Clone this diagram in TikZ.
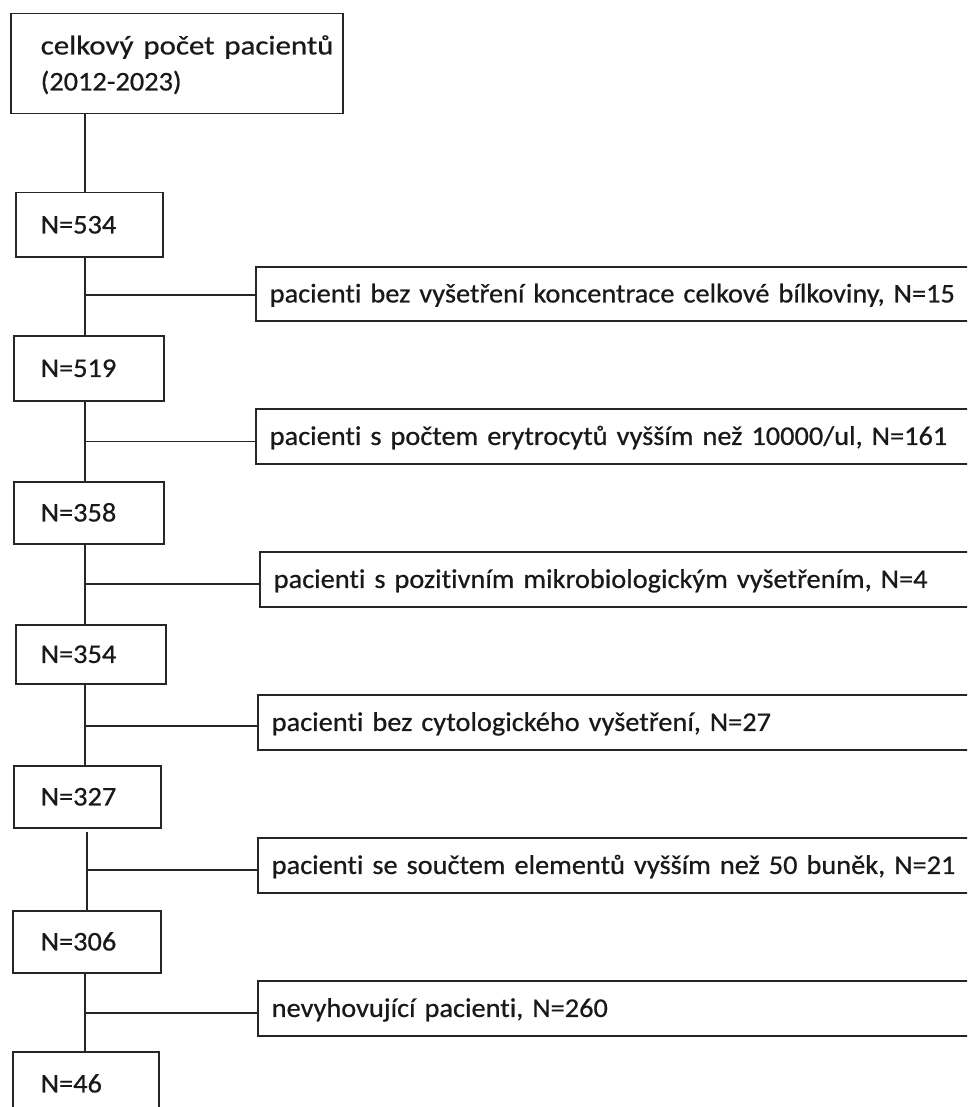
\documentclass[tikz,border=0pt]{standalone}
\usepackage{graphicx}
\usepackage{fontspec}
\setmainfont{Carlito}[Ligatures=NoCommon, FakeStretch=1.05, FakeBold=0.6]
\begin{document}
\begin{tikzpicture}[x=1pt,y=-1pt,
  box/.style={draw=black!85, line width=1.5pt, anchor=north west, inner xsep=0pt, inner ysep=0pt,
    align=left, font=\fontsize{27}{36}\selectfont, text=black!90, text height=17.4pt, text depth=0pt},
  conn/.style={draw=black!85, line width=1.5pt}
]
\useasboundingbox (0,0) rectangle (967,1107);
\fill[white] (0,0) rectangle (967,1107);
\clip (0,0) rectangle (967,1107);

\coordinate (spine) at (85,0);
\coordinate (spineb) at (87,0);

% main column
\node[box, minimum width=332pt, minimum height=100pt, text width=272pt, text depth=36pt] (top) at (10,13)
  {\scalebox{1.09}[1]{celkový počet pacientů}\\(2012-2023)};
\node[box, minimum width=147pt, minimum height=64pt, text width=97pt] (n534) at (15,192) {N=534};
\node[box, minimum width=150pt, minimum height=65pt, text width=96pt] (n519) at (13,335) {N=519};
\node[box, minimum width=150pt, minimum height=62pt, text width=96pt] (n358) at (13,481) {N=358};
\node[box, minimum width=150pt, minimum height=59pt, text width=100pt] (n354) at (15,624) {N=354};
\node[box, minimum width=147pt, minimum height=62pt, text width=93pt] (n327) at (13,765) {N=327};
\node[box, minimum width=148pt, minimum height=62pt, text width=92pt] (n306) at (12,910) {N=306};
\node[box, minimum width=146pt, minimum height=64pt, text width=90pt] (n46) at (12,1051) {N=46};

% exclusion boxes
\node[box, minimum width=800pt, minimum height=54pt, text width=772pt] (r1) at (255,266)
  {pacienti bez vyšetření koncentrace celkové bílkoviny, N=15};
\node[box, minimum width=800pt, minimum height=55pt, text width=772pt] (r2) at (255,408)
  {pacienti s počtem erytrocytů vyšším než 10000/ul, N=161};
\node[box, minimum width=800pt, minimum height=55pt, text width=772pt] (r3) at (259,551)
  {pacienti s pozitivním mikrobiologickým vyšetřením, N=4};
\node[box, minimum width=800pt, minimum height=55pt, text width=772pt] (r4) at (257,694)
  {pacienti bez cytologického vyšetření, N=27};
\node[box, minimum width=800pt, minimum height=55pt, text width=772pt] (r5) at (257,837)
  {pacienti se součtem elementů vyšším než 50 buněk, N=21};
\node[box, minimum width=800pt, minimum height=55pt, text width=772pt] (r6) at (257,980)
  {nevyhovující pacienti, N=260};

% vertical connectors
\draw[conn] (top.south -| spine) -- (n534.north -| spine);
\draw[conn] (n534.south -| spine) -- (n519.north -| spine);
\draw[conn] (n519.south -| spine) -- (n358.north -| spine);
\draw[conn] (n358.south -| spine) -- (n354.north -| spine);
\draw[conn] (n354.south -| spine) -- (n327.north -| spine);
\draw[conn] ([yshift=-3pt]n327.south -| spineb) -- (n306.north -| spineb);
\draw[conn] (n306.south -| spine) -- (n46.north -| spine);

% branch connectors
\coordinate (b1) at ([yshift=-1pt]r1.west);
\coordinate (b2) at ([yshift=-5pt]r2.west);
\coordinate (b3) at ([yshift=-4.5pt]r3.west);
\coordinate (b4) at ([yshift=-3.5pt]r4.west);
\coordinate (b5) at ([yshift=-4.5pt]r5.west);
\coordinate (b6) at ([yshift=-4.5pt]r6.west);
\draw[conn] (b1 -| spine) -- (b1);
\draw[conn] (b2 -| spine) -- (b2);
\draw[conn] (b3 -| spine) -- (b3);
\draw[conn] (b4 -| spine) -- (b4);
\draw[conn] (b5 -| spineb) -- (b5);
\draw[conn] (b6 -| spine) -- (b6);
\end{tikzpicture}
\end{document}
